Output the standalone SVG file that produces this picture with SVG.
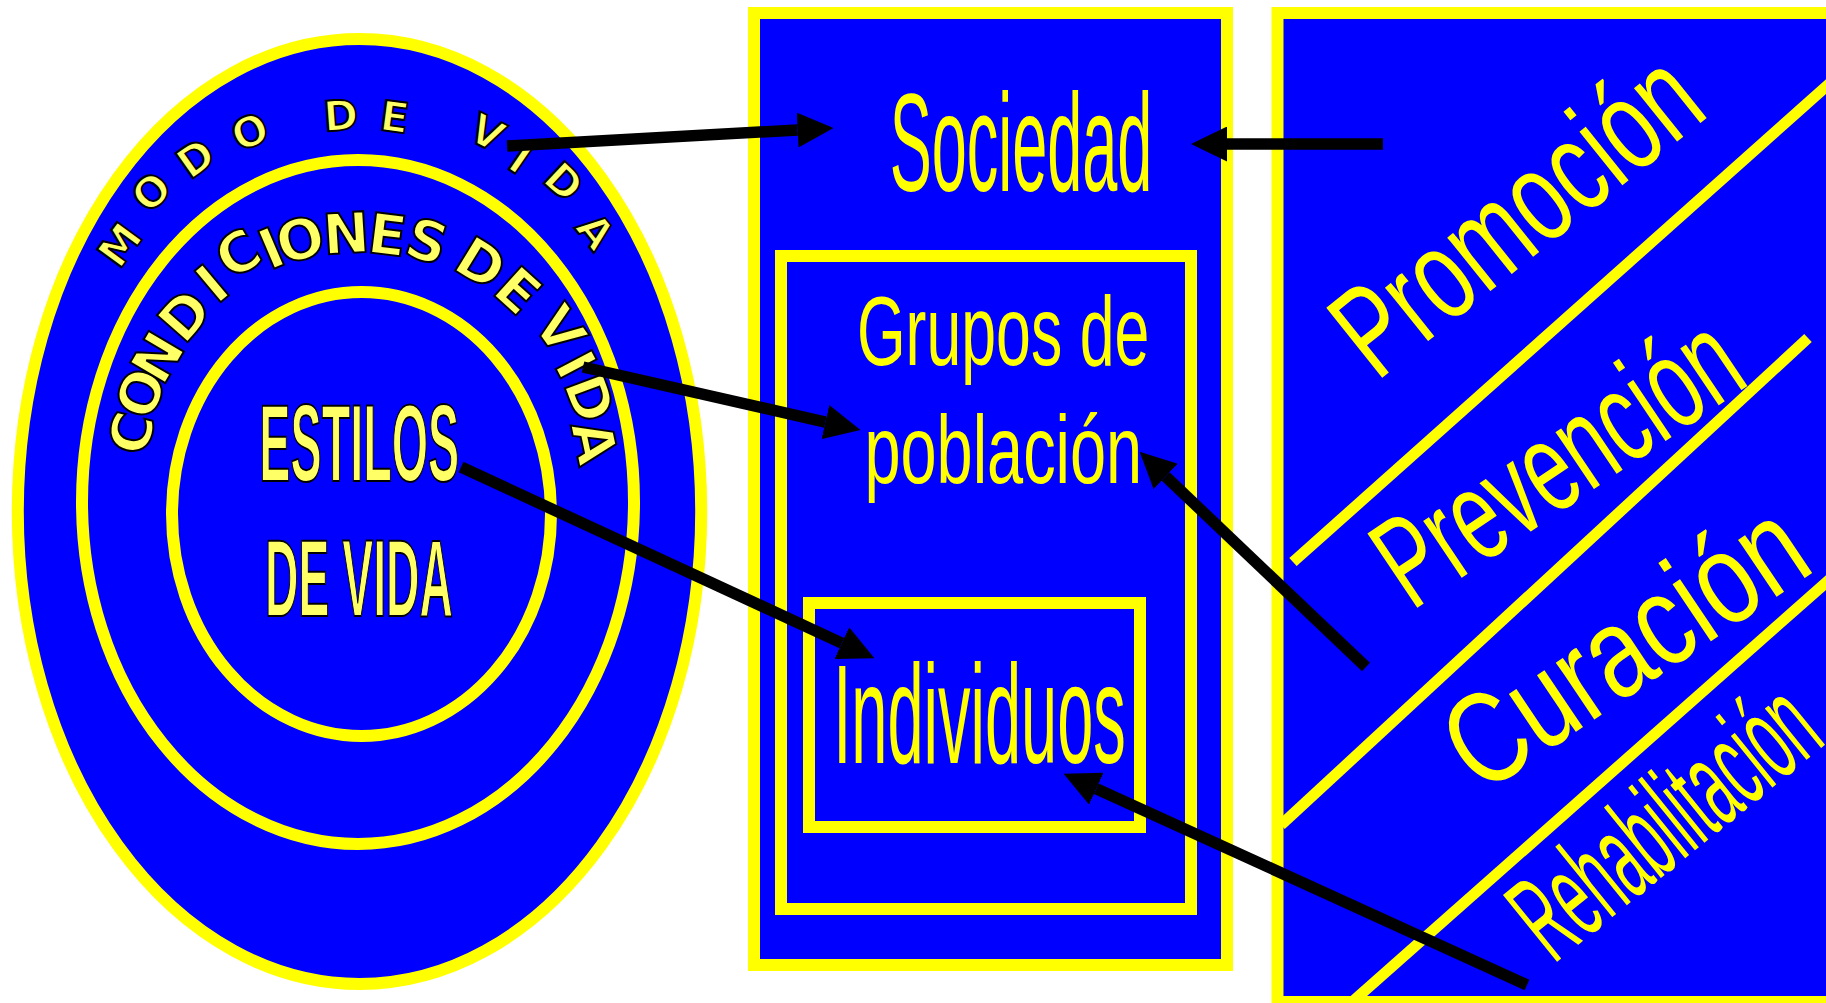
<svg xmlns="http://www.w3.org/2000/svg" width="1826" height="1003" viewBox="0 0 1826 1003">
<defs>
<style>
.shape{fill:#0000FF;stroke:#FFFF00;stroke-width:12}
.div{stroke:#FFFF00;stroke-width:11;fill:none}
.arc{font-family:"DejaVu Sans",sans-serif;font-weight:bold;fill:#FFFF66;stroke:#000;stroke-width:2}
.big{font-family:"Liberation Sans",Arial,sans-serif;font-weight:bold;fill:#FFFF66;stroke:#000;stroke-width:2}
.lbl{font-family:"Liberation Sans",Arial,sans-serif;fill:#FFFF00}
.arr{stroke:#000;stroke-width:11.5;fill:none;marker-end:url(#ah)}
</style>
<marker id="ah" markerUnits="userSpaceOnUse" markerWidth="36" markerHeight="35" viewBox="0 0 36 35" refX="0" refY="17.5" orient="auto">
<path d="M0,0 L36,17.5 L0,35 Z" fill="#000"/>
</marker>
</defs>
<rect width="1826" height="1003" fill="#FFFFFF"/>

<g id="modo-de-vida">
<ellipse class="shape" cx="359.5" cy="511.5" rx="341.7" ry="472.5"/>
<text class="arc" font-size="42" x="119.5 149 190 239.5 270 324.5 378.5 420 466 505.5 541 574" y="270.5 215 180.5 152.5 140 131.5 129.8 130 138.5 167 180.8 227.8" rotate="-53.7 -44.5 -35.1 -23.6 0 -4.1 7.6 0 26.9 34.5 43 51.7">MODO DE VIDA</text>
</g>

<g id="condiciones-de-vida">
<ellipse class="shape" cx="358" cy="502" rx="276" ry="342"/>
<text class="arc" font-size="56" x="145.8 150 162.7 184.2 216.8 230.5 269.4 282.6 324 366 402 445 450.7 490.4 530 531.2 553.2 563 570.4" y="457.8 422.8 387.5 346 305.4 281 270.8 265 254.4 252 254 255 268 292.5 310 323.5 364.6 383.4 425.2" rotate="-76.1 -67.8 -59.6 -48.8 -40 -30.9 -23.1 -15.5 -3.6 7.1 17.3 24 31.5 42.2 48 54.5 62.2 69.5 78">CONDICIONES DE VIDA</text>
</g>

<g id="estilos-de-vida">
<ellipse class="shape" cx="361.5" cy="514" rx="189.5" ry="222"/>
<text class="big" font-size="109" x="259.3" y="480.5" textLength="200" lengthAdjust="spacingAndGlyphs">ESTILOS</text>
<text class="big" font-size="110" x="265" y="615.7" textLength="188" lengthAdjust="spacingAndGlyphs">DE VIDA</text>
</g>

<g id="sociedad">
<rect class="shape" x="754" y="13" width="473" height="952"/>
<text class="lbl" font-size="140" x="889.8" y="190.7" textLength="262.6" lengthAdjust="spacingAndGlyphs">Sociedad</text>
</g>

<g id="grupos-de-poblacion">
<rect class="shape" x="781" y="256" width="410" height="653"/>
<text class="lbl" font-size="98" x="856.9" y="365" textLength="292.4" lengthAdjust="spacingAndGlyphs">Grupos de</text>
<text class="lbl" font-size="97" x="864.4" y="483.3" textLength="277.8" lengthAdjust="spacingAndGlyphs">población</text>
</g>

<g id="individuos">
<rect class="shape" x="809" y="603" width="331" height="224"/>
<text class="lbl" font-size="141" x="833.2" y="762.7" textLength="292.6" lengthAdjust="spacingAndGlyphs">Individuos</text>
</g>

<g id="niveles">
<rect class="shape" x="1277.5" y="13" width="600" height="989"/>
<line class="div" x1="1293" y1="562" x2="1830" y2="83"/>
<line class="div" x1="1281" y1="825" x2="1808" y2="338"/>
<line class="div" x1="1352" y1="1002" x2="1830" y2="579"/>
<text class="lbl" font-size="130" transform="translate(1376.6,382.3) rotate(-38.7)" textLength="428.7" lengthAdjust="spacingAndGlyphs">Promoción</text>
<text class="lbl" font-size="130" transform="translate(1411.8,611.5) rotate(-33.9)" textLength="409.6" lengthAdjust="spacingAndGlyphs">Prevención</text>
<text class="lbl" font-size="130" transform="translate(1480.9,795.7) rotate(-33.9)" textLength="405.7" lengthAdjust="spacingAndGlyphs">Curación</text>
<text class="lbl" font-size="125" transform="translate(1553.5,964.8) rotate(-39)" textLength="353" lengthAdjust="spacingAndGlyphs">Rehabilitación</text>
</g>

<g id="connectors">
<line class="arr" x1="507" y1="146" x2="797.6" y2="130"/>
<line class="arr" x1="1383" y1="144" x2="1227" y2="144"/>
<line class="arr" x1="583" y1="367" x2="825.4" y2="422.1"/>
<line class="arr" x1="461" y1="467" x2="841.8" y2="643.1"/>
<line class="arr" x1="1366" y1="667" x2="1165.7" y2="476.5"/>
<line class="arr" x1="1527" y1="985" x2="1096.3" y2="788.7"/>
</g>
</svg>
